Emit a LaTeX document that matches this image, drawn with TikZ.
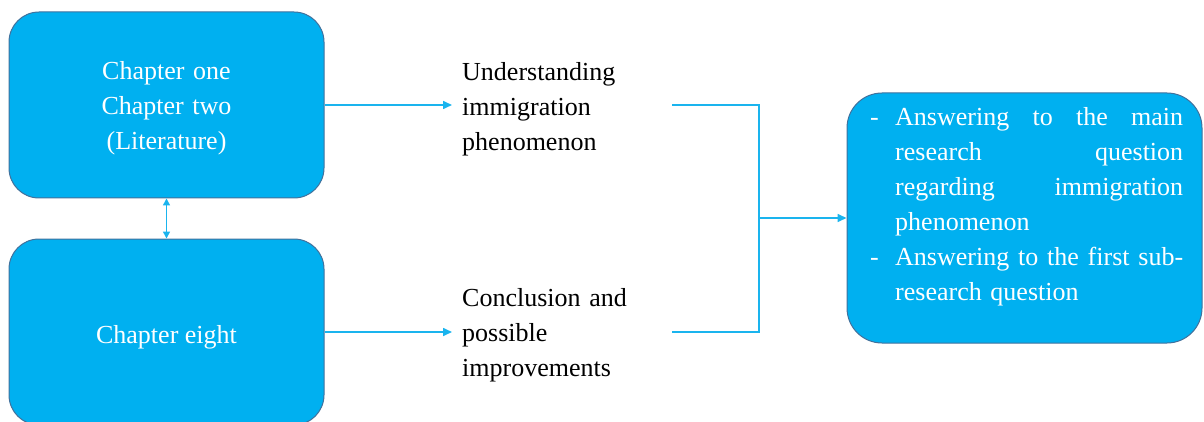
\documentclass[tikz,border=0pt]{standalone}
\usepackage{fontspec}
\setmainfont{Liberation Serif}
\usetikzlibrary{arrows.meta}
\definecolor{boxfill}{HTML}{00B0F0}
\definecolor{boxline}{HTML}{41719C}
\definecolor{linkcol}{HTML}{1AB4EE}
\tikzset{
  chapbox/.style={draw=boxline, line width=1pt, fill=boxfill, rounded corners=30pt,
    minimum width=315pt, minimum height=186pt, inner sep=0pt},
  bodytext/.style={font=\fontsize{26}{35}\selectfont, inner sep=0pt},
  boxtext/.style={bodytext, text=white},
  link/.style={draw=linkcol, line width=1.6pt},
  arr/.style={link, -{Triangle[length=9pt,width=8pt]}},
  darr/.style={link, {Triangle[length=7pt,width=7pt]}-{Triangle[length=7pt,width=7pt]}},
}
% one justified line of the bulleted list
\newcommand{\jline}[1]{\makebox[288pt][l]{#1}}
\begin{document}
\begin{tikzpicture}[x=1pt,y=1pt]
  \useasboundingbox (0,0) rectangle (1204,-422);
  % chapter boxes and result box
  \node[chapbox] (b1) at (166.5,-105) {};
  \node[chapbox] (b2) at (166.5,-332) {};
  \node[chapbox, rounded corners=35pt, minimum width=355pt, minimum height=250pt] (b3) at (1024.5,-218) {};
  % texts
  \node[boxtext, align=center, text width=260pt, anchor=base] (t1) at (166.5,-80)
    {Chapter one\\Chapter two\\(Literature)};
  \node[boxtext, anchor=base] (t2) at (166.5,-343) {Chapter eight};
  \node[bodytext, align=left, text width=180pt, anchor=base west] (m1) at (462,-80.5)
    {Understanding\\immigration\\phenomenon};
  \node[bodytext, align=left, text width=180pt, anchor=base west] (m2) at (462,-306)
    {Conclusion and\\possible\\improvements};
  \node[boxtext, align=left, text width=313pt, anchor=base west] (t3) at (870,-125.5) {%
    \makebox[25pt][l]{-}\jline{Answering\hfill to\hfill the\hfill main}\\
    \makebox[25pt]{}\jline{research\hfill question}\\
    \makebox[25pt]{}\jline{regarding\hfill immigration}\\
    \makebox[25pt]{}phenomenon\\
    \makebox[25pt][l]{-}\jline{Answering\hfill to\hfill the\hfill first\hfill sub-}\\
    \makebox[25pt]{}research question};
  % connectors
  \draw[arr, shorten >=10pt] (b1.east) -- (b1.east -| m1.west);
  \draw[arr, shorten >=10pt] (b2.east) -- (b2.east -| m2.west);
  \coordinate (jt) at (672,-105);
  \coordinate (jb) at (672,-332);
  \coordinate (jm) at (759,-218);
  \draw[link] (jt) -- (jt -| jm) -- (jb -| jm) -- (jb);
  \draw[arr] (jm) -- (b3.west);
  \draw[darr] (b1.south) -- (b2.north);
\end{tikzpicture}
\end{document}
